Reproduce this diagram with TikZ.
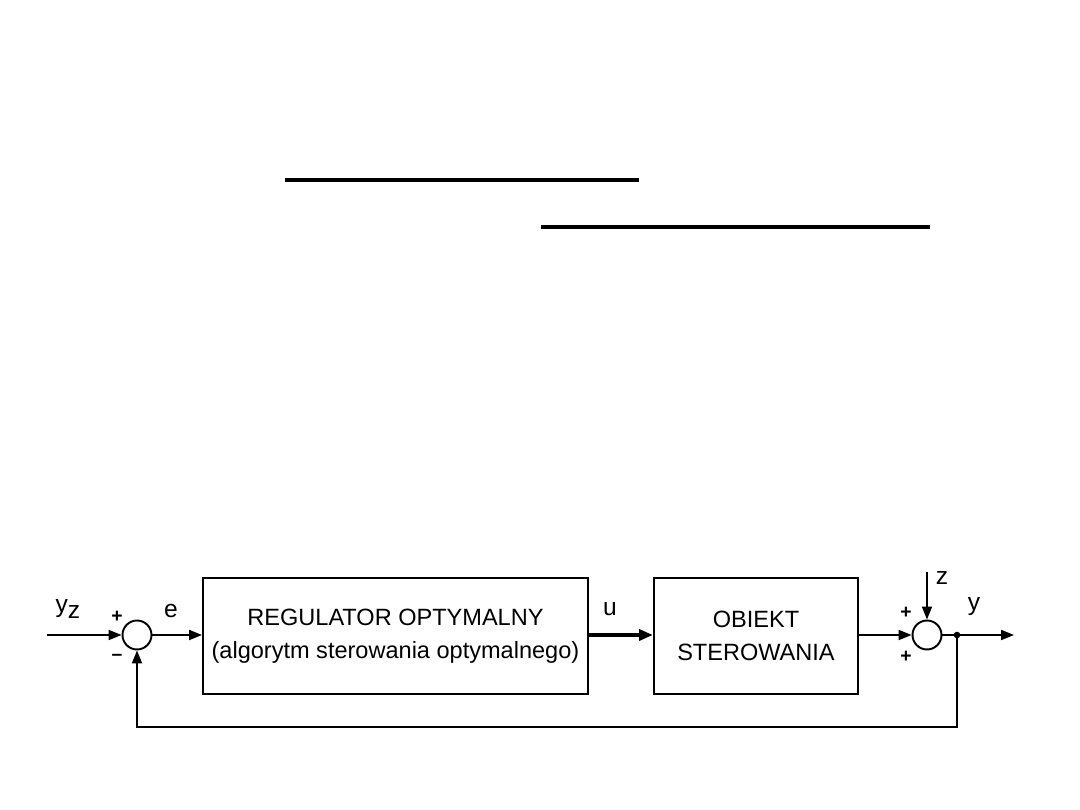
\documentclass[tikz,border=0pt]{standalone}
\usepackage{fontspec}
\setmainfont{Liberation Sans}
\usetikzlibrary{arrows.meta}
\begin{document}
\begin{tikzpicture}[x=0.02cm,y=-0.02cm,
  arr/.style={line width=1.1pt,-{Triangle[length=0.26cm,width=0.2cm]}},
  thickarr/.style={line width=2pt,-{Triangle[length=0.28cm,width=0.22cm]}},
  blk/.style={draw,line width=1.1pt,inner sep=0pt,anchor=north west},
  sumj/.style={draw,circle,line width=1.1pt,minimum size=0.58cm,inner sep=0pt},
  lbl/.style={font=\fontsize{14}{16}\selectfont},
  sgn/.style={font=\fontsize{11}{12}\selectfont},
  btxt/.style={font=\fontsize{13.4}{19}\selectfont,align=center}]
\useasboundingbox (0,0) rectangle (1080,810);
% top lines
\coordinate (l1a) at (285,180); \coordinate (l1b) at (639,180);
\coordinate (l2a) at (541,227); \coordinate (l2b) at (930,227);
\draw[line width=2pt] (l1a) -- (l1b);
\draw[line width=2pt] (l2a) -- (l2b);
% blocks
\node[blk,minimum width=385*0.02cm,minimum height=116*0.02cm] (reg) at (202,577) {};
\node[blk,minimum width=204*0.02cm,minimum height=116*0.02cm] (obj) at (653,577) {};
\node[btxt] (regt) at (reg.center) {REGULATOR OPTYMALNY\\(algorytm sterowania optymalnego)};
\node[btxt] (objt) at (obj.center) {OBIEKT\\STEROWANIA};
% junctions
\node[sumj] (s1) at (137,635) {};
\node[sumj] (s2) at (927,635) {};
% signals
\coordinate (in) at (47,635);
\coordinate (zin) at (927,572);
\coordinate (out) at (1014,635);
\coordinate (br) at (957,635);
\coordinate (fb1) at (957,727);
\coordinate (fb2) at (137,727);
\draw[arr] (in) -- (s1.west);
\draw[arr] (s1.east) -- (s1.east -| reg.west);
\draw[thickarr] (reg.east |- s1) -- (obj.west |- s1);
\draw[arr] (obj.east |- s2) -- (s2.west);
\draw[arr] (zin) -- (s2.north);
\draw[arr] (s2.east) -- (out);
\draw[arr] (br) -- (fb1) -- (fb2) -- (s1.south);
\fill (br) circle (3.3);
% labels
\node[lbl] (yz) at (68,609) {y\raisebox{-0.45ex}{z}};
\node[lbl] (e) at (171,611) {e};
\node[lbl] (u) at (610,609) {u};
\node[lbl] (z) at (942,578) {z};
\node[lbl] (y) at (974,607) {y};
\node[sgn] (p1) at (117,617) {\textbf{+}};
\node[sgn] (m1) at (117,657) {\textbf{--}};
\node[sgn] (p2) at (906,613) {\textbf{+}};
\node[sgn] (p3) at (906,657) {\textbf{+}};
\end{tikzpicture}
\end{document}
